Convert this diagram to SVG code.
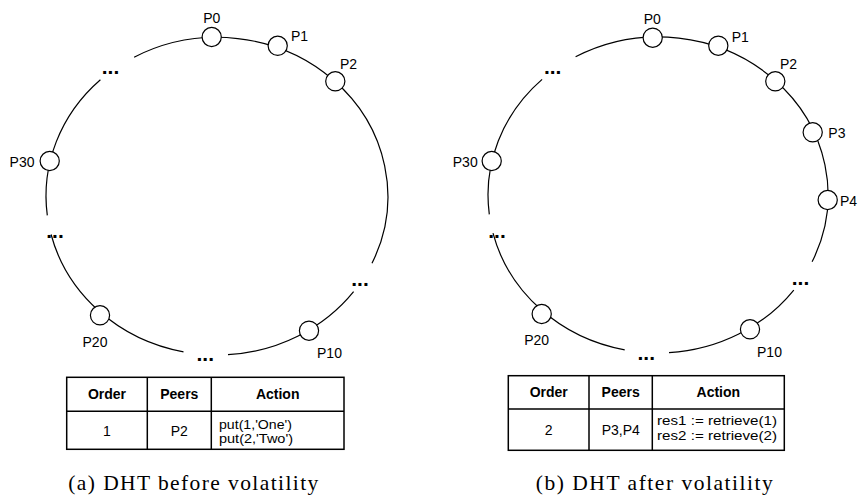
<svg xmlns="http://www.w3.org/2000/svg" width="860" height="504" viewBox="0 0 860 504">
<style>
.ring{fill:none;stroke:#000;stroke-width:1.2}
.node{fill:#fff;stroke:#000;stroke-width:1.2}
.lbl{font-family:"Liberation Sans",Arial,sans-serif;font-size:14px;fill:#000}
.dots{font-family:"Liberation Sans",Arial,sans-serif;font-size:21px;font-weight:bold;fill:#000;text-anchor:middle}
.tbl{fill:#fff;stroke:#000;stroke-width:1.5}
.tl{stroke:#000;stroke-width:1.5}
.th{font-family:"Liberation Sans",Arial,sans-serif;font-size:14px;font-weight:bold;fill:#000;text-anchor:middle}
.td{font-family:"Liberation Sans",Arial,sans-serif;font-size:14px;fill:#000;text-anchor:middle}
.ta{font-family:"Liberation Sans",Arial,sans-serif;font-size:13.5px;fill:#000}
.cap{font-family:"Liberation Serif","Times New Roman",serif;font-size:21.5px;fill:#000;text-anchor:middle}
</style>
<rect width="860" height="504" fill="#fff"/>

<!-- Left panel ring -->
<g id="ring-a">
<path class="ring" d="M134.1,57.2 A171,159 0 0 1 372.0,263.2"/>
<path class="ring" d="M353.6,291.7 A171,159 0 0 1 228.0,354.7"/>
<path class="ring" d="M183.5,351.9 A171,159 0 0 1 51.1,234.5"/>
<path class="ring" d="M47.3,215.4 A171,159 0 0 1 100.4,79.7"/>
</g>
<!-- Right panel ring -->
<g id="ring-b">
<path class="ring" d="M575.6,56.8 A170,158 0 0 1 812.1,261.8"/>
<path class="ring" d="M793.8,290.1 A170,158 0 0 1 669.0,352.7"/>
<path class="ring" d="M624.7,349.9 A170,158 0 0 1 493.0,233.2"/>
<path class="ring" d="M489.3,214.3 A170,158 0 0 1 542.1,79.4"/>
</g>

<!-- Left panel nodes -->
<g id="a-P0"><circle class="node" cx="211.7" cy="37" r="9.6"/><text class="lbl" x="211.7" y="22.7" text-anchor="middle">P0</text></g>
<g id="a-P1"><circle class="node" cx="277.7" cy="45.8" r="9.6"/><text class="lbl" x="291" y="40.7">P1</text></g>
<g id="a-P2"><circle class="node" cx="335.3" cy="81.3" r="9.6"/><text class="lbl" x="340" y="69">P2</text></g>
<g id="a-P30"><circle class="node" cx="49.7" cy="161" r="9.6"/><text class="lbl" x="34.5" y="166.7" text-anchor="end">P30</text></g>
<g id="a-P20"><circle class="node" cx="100" cy="315.3" r="9.6"/><text class="lbl" x="95" y="347" text-anchor="middle">P20</text></g>
<g id="a-P10"><circle class="node" cx="309" cy="330.7" r="9.6"/><text class="lbl" x="329.5" y="358.3" text-anchor="middle">P10</text></g>
<g id="a-dots">
<text class="dots" x="110.5" y="74">...</text>
<text class="dots" x="55" y="237.5">...</text>
<text class="dots" x="205.3" y="361">...</text>
<text class="dots" x="360" y="285.7">...</text>
</g>

<!-- Right panel nodes -->
<g id="b-P0"><circle class="node" cx="652.7" cy="37.7" r="9.6"/><text class="lbl" x="652.3" y="23.5" text-anchor="middle">P0</text></g>
<g id="b-P1"><circle class="node" cx="718.3" cy="45.7" r="9.6"/><text class="lbl" x="731.7" y="42.2">P1</text></g>
<g id="b-P2"><circle class="node" cx="775.3" cy="81.3" r="9.6"/><text class="lbl" x="780" y="69">P2</text></g>
<g id="b-P3"><circle class="node" cx="812.7" cy="132.3" r="9.6"/><text class="lbl" x="828.3" y="137.7">P3</text></g>
<g id="b-P4"><circle class="node" cx="827.7" cy="200" r="9.6"/><text class="lbl" x="840" y="206">P4</text></g>
<g id="b-P30"><circle class="node" cx="491.7" cy="161" r="9.6"/><text class="lbl" x="477.7" y="166.7" text-anchor="end">P30</text></g>
<g id="b-P20"><circle class="node" cx="541.7" cy="314" r="9.6"/><text class="lbl" x="536.7" y="345" text-anchor="middle">P20</text></g>
<g id="b-P10"><circle class="node" cx="750" cy="329.3" r="9.6"/><text class="lbl" x="769.5" y="356.7" text-anchor="middle">P10</text></g>
<g id="b-dots">
<text class="dots" x="552.7" y="74">...</text>
<text class="dots" x="497" y="237.5">...</text>
<text class="dots" x="646.3" y="360">...</text>
<text class="dots" x="800.5" y="285">...</text>
</g>

<!-- Left table -->
<g id="table-a">
<rect class="tbl" x="66.7" y="377.3" width="277.3" height="72"/>
<line class="tl" x1="147.3" y1="377.3" x2="147.3" y2="449.3"/>
<line class="tl" x1="211.3" y1="377.3" x2="211.3" y2="449.3"/>
<line class="tl" x1="66.7" y1="411.3" x2="344" y2="411.3"/>
<text class="th" x="107" y="399.3">Order</text>
<text class="th" x="179.3" y="399.3">Peers</text>
<text class="th" x="277.7" y="399.3">Action</text>
<text class="td" x="107" y="436">1</text>
<text class="td" x="179.3" y="436">P2</text>
<text class="ta" x="219" y="428.5" textLength="73" lengthAdjust="spacingAndGlyphs">put(1,'One')</text>
<text class="ta" x="219" y="443.2" textLength="74" lengthAdjust="spacingAndGlyphs">put(2,'Two')</text>
</g>

<!-- Right table -->
<g id="table-b">
<rect class="tbl" x="508.3" y="375.7" width="276" height="74.6"/>
<line class="tl" x1="589" y1="375.7" x2="589" y2="450.3"/>
<line class="tl" x1="652.3" y1="375.7" x2="652.3" y2="450.3"/>
<line class="tl" x1="508.3" y1="409" x2="784.3" y2="409"/>
<text class="th" x="548.7" y="397.3">Order</text>
<text class="th" x="620.7" y="397.3">Peers</text>
<text class="th" x="718.3" y="397.3">Action</text>
<text class="td" x="548.7" y="435">2</text>
<text class="td" x="620.7" y="435">P3,P4</text>
<text class="ta" x="657" y="425.3" textLength="120" lengthAdjust="spacingAndGlyphs">res1 := retrieve(1)</text>
<text class="ta" x="657" y="440" textLength="120" lengthAdjust="spacingAndGlyphs">res2 := retrieve(2)</text>
</g>

<!-- Captions -->
<text class="cap" x="193.3" y="490" textLength="250" lengthAdjust="spacing">(a) DHT before volatility</text>
<text class="cap" x="654.3" y="490" textLength="237" lengthAdjust="spacing">(b) DHT after volatility</text>
</svg>
